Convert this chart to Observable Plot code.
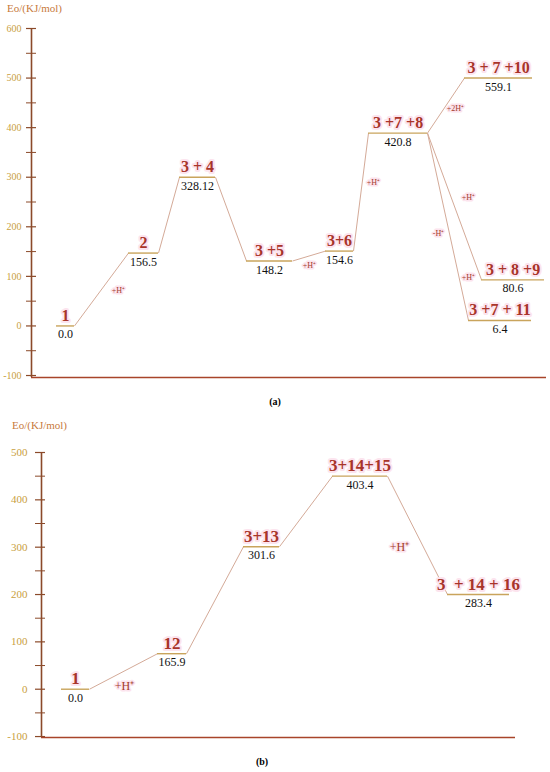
<!DOCTYPE html>
<html><head><meta charset="utf-8">
<script src="https://cdn.jsdelivr.net/npm/d3@7"></script>
<script src="https://cdn.jsdelivr.net/npm/@observablehq/plot@0.6"></script>
<style>
body{margin:0;background:#fff;}
#wrap{position:relative;width:550px;height:772px;font-family:"Liberation Serif",serif;overflow:hidden;}
#wrap svg{position:absolute;left:0;}
.title{position:absolute;font-size:11px;color:#c87a3c;white-space:nowrap;}
.cap{position:absolute;font-size:10px;font-weight:bold;color:#000;transform:translateX(-50%);}
</style></head><body><div id="wrap"></div>
<script>
// ---------- Panel (a) ----------
const aNames = ["1","2","3 + 4","3 +5","3+6","3 +7 +8","3 + 7 +10","3 + 8 +9","3 +7 + 11"];
const aValues = ["0.0","156.5","328.12","148.2","154.6","420.8","559.1","80.6","6.4"];
const aEnergy = [0,147,300,131,151,389,500,93,11];      // level heights as drawn
const aStart = [25,97,148,215,294,337,433,450,437];     // reaction coordinate, start of level
const aEnd   = [43,127,184,261,322,396,501,513,500];    // reaction coordinate, end of level
const aLinks = [[0,1],[1,2],[2,3],[3,4],[4,5],[5,6],[5,7],[5,8]];
const aStepText = ["+H⁺","+H⁺","+H⁺","+2H⁺","+H⁺","-H⁺","+H⁺"];
const aStepX = [87,278,342,424,437,407,437];
const aStepY = [71,122,289,439,259,186,97];
const aTicks = [-100,0,100,200,300,400,500,600];
const aMinor = [-50,50,150,250,350,450,550];
const aXDomain = [0,515];
const aYDomain = [-104,600];

// ---------- Panel (b) ----------
const bNames = ["1","12","3+13","3+14+15","3  + 14 + 16"];
const bValues = ["0.0","165.9","301.6","403.4","283.4"];
const bEnergy = [0,75,301,450,200];
const bStart = [20,116,202,291,406];
const bEnd   = [48,145,238,346,468];
const bLinks = [[0,1],[1,2],[2,3],[3,4]];
const bStepText = ["+H⁺","+H⁺"];
const bStepX = [83,358];
const bStepY = [6,301];
const bTicks = [-100,0,100,200,300,400,500];
const bMinor = [-50,50,150,250,350,450];
const bXDomain = [0,474];
const bYDomain = [-102,500];

const AXIS = "#8b4a2a", BASE = "#a8442a", TICKTXT = "#c9a040", LEVEL = "#c9a45c",
      LINK = "#d4aa98", NAME = "#a8342a", HALO = "#fce4ee";

function panel(cfg) {
  const levels = cfg.names.map((n, i) => ({name: n, value: cfg.values[i], e: cfg.energy[i], x1: cfg.start[i], x2: cfg.end[i]}));
  const links = cfg.links.map(([a, b]) => ({x1: levels[a].x2, y1: levels[a].e, x2: levels[b].x1, y2: levels[b].e}));
  const steps = cfg.stepText.map((t, i) => ({t, x: cfg.stepX[i], y: cfg.stepY[i]}));
  return Plot.plot({
    width: 550, height: cfg.height,
    marginLeft: cfg.ml, marginRight: cfg.mr, marginTop: cfg.mt, marginBottom: cfg.mb,
    style: {fontFamily: "Liberation Serif, serif", background: "transparent"},
    x: {domain: cfg.xDomain, axis: null},
    y: {domain: cfg.yDomain, axis: null},
    marks: [
      Plot.axisY(cfg.ticks, {tickSize: 10, dx: cfg.tdx, text: null, label: null, stroke: AXIS, strokeWidth: 1.2}),
      Plot.axisY(cfg.minor, {tickSize: 10, dx: cfg.tdx, text: null, label: null, stroke: AXIS, strokeWidth: 1}),
      Plot.axisY(cfg.ticks, {tickSize: 0, tickPadding: cfg.tp, label: null, fontSize: cfg.tfs,
        tickFormat: d => String(d), fill: TICKTXT, stroke: HALO, strokeWidth: 3, paintOrder: "stroke"}),
      Plot.ruleX([cfg.xDomain[0]], {stroke: AXIS, strokeWidth: 1.6}),
      Plot.ruleY([cfg.yDomain[0]], {stroke: BASE, strokeWidth: 1.6}),
      Plot.link(links, {x1: "x1", y1: "y1", x2: "x2", y2: "y2", stroke: LINK, strokeWidth: 1}),
      Plot.ruleY(levels, {y: "e", x1: "x1", x2: "x2", stroke: LEVEL, strokeWidth: 1.4}),
      Plot.text(levels, {x: d => (d.x1 + d.x2) / 2, y: "e", text: "name", lineAnchor: "bottom", dy: -5,
        fontSize: cfg.nfs, fontWeight: "bold", fill: NAME, stroke: HALO, strokeWidth: 4, paintOrder: "stroke"}),
      Plot.text(levels, {x: d => (d.x1 + d.x2) / 2, y: "e", text: "value", lineAnchor: "top", dy: 4,
        fontSize: cfg.vfs, fill: "#111"}),
      Plot.text(steps, {x: "x", y: "y", text: "t", fontSize: cfg.sfs, fill: "#a33a2a",
        stroke: HALO, strokeWidth: 3, paintOrder: "stroke"})
    ]
  });
}

const wrap = document.getElementById("wrap");

const pa = panel({names: aNames, values: aValues, energy: aEnergy, start: aStart, end: aEnd, links: aLinks,
  stepText: aStepText, stepX: aStepX, stepY: aStepY, ticks: aTicks, minor: aMinor,
  xDomain: aXDomain, yDomain: aYDomain, height: 395, ml: 31, mr: 4, mt: 28, mb: 18,
  tdx: 5, tp: 10, tfs: 10, nfs: 16, vfs: 12, sfs: 8});
pa.style.top = "0px";
wrap.appendChild(pa);

const pb = panel({names: bNames, values: bValues, energy: bEnergy, start: bStart, end: bEnd, links: bLinks,
  stepText: bStepText, stepX: bStepX, stepY: bStepY, ticks: bTicks, minor: bMinor,
  xDomain: bXDomain, yDomain: bYDomain, height: 340, ml: 41, mr: 35, mt: 40, mb: 15,
  tdx: 4, tp: 14, tfs: 11, nfs: 17, vfs: 12, sfs: 12});
pb.style.top = "412px";
wrap.appendChild(pb);

function addDiv(cls, text, left, top) {
  const d = document.createElement("div");
  d.className = cls; d.textContent = text;
  d.style.left = left + "px"; d.style.top = top + "px";
  wrap.appendChild(d);
}
addDiv("title", "Eo/(KJ/mol)", 7, 2);
addDiv("title", "Eo/(KJ/mol)", 12, 419);
addDiv("cap", "(a)", 275, 396);
addDiv("cap", "(b)", 262, 756);
</script></body></html>
